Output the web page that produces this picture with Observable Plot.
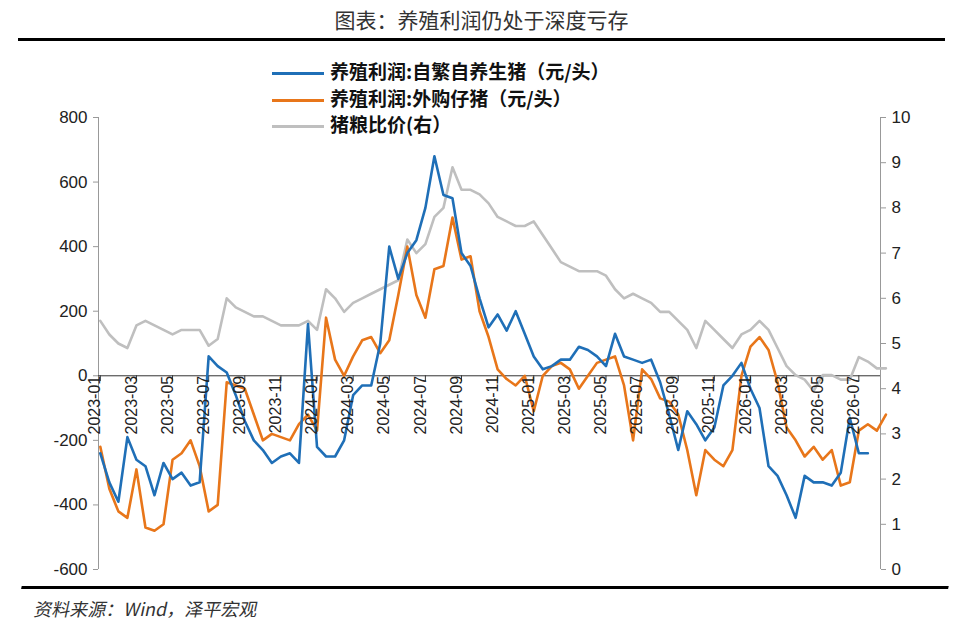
<!DOCTYPE html>
<html><head><meta charset="utf-8">
<script src="https://cdn.jsdelivr.net/npm/d3@7"></script>
<script src="https://cdn.jsdelivr.net/npm/@observablehq/plot@0.6"></script>
<style>
body{margin:0;background:#fff;font-family:"Liberation Sans",sans-serif;}
#wrap{position:relative;width:978px;}
#title{height:38px;line-height:38px;text-align:center;font-family:"Noto Sans CJK SC";font-size:21px;color:#333;margin:0 33px 0 18px;border-bottom:3px solid #000;}
#src{margin:0 33px 0 18px;border-top:3px solid #000;font-family:"Noto Sans CJK SC";font-size:18px;color:#333;padding:6px 0 0 18px;transform:skewX(-12deg);transform-origin:left;}
#legend{position:absolute;left:272px;top:58px;font-family:"Noto Sans CJK SC";font-weight:bold;font-size:19px;line-height:26.5px;color:#111;}
#legend span.l{display:inline-block;width:52px;height:3px;vertical-align:middle;margin-right:6px;}
</style></head><body>
<div id="wrap">
<div id="title">图表：养殖利润仍处于深度亏存</div>
<div id="chart"></div>
<div id="src">资料来源：Wind，泽平宏观</div>
<div id="legend">
<div><span class="l" style="background:#1F6FB7"></span>养殖利润:自繁自养生猪（元/头）</div>
<div><span class="l" style="background:#E8761A"></span>养殖利润:外购仔猪（元/头）</div>
<div><span class="l" style="background:#BFBFBF"></span>猪粮比价(右）</div>
</div>
</div>
<script>
// semi-monthly samples starting 2023-01
const selfBred = [-240,-330,-390,-190,-260,-280,-370,-270,-320,-300,-340,-330,60,30,10,-60,-140,-200,-230,-270,-250,-240,-270,160,-220,-250,-250,-200,-60,-30,-30,100,400,300,380,420,520,680,560,550,380,340,240,150,190,140,200,130,60,20,30,50,50,90,80,60,30,130,60,50,40,50,-20,-120,-230,-110,-150,-200,-160,-30,0,40,-40,-100,-280,-310,-370,-440,-310,-330,-330,-340,-300,-130,-240,-240];
const bought = [-220,-350,-420,-440,-290,-470,-480,-460,-260,-240,-200,-280,-420,-400,-20,-30,-40,-120,-200,-180,-190,-200,-150,-120,-170,180,50,0,60,110,120,70,110,250,400,250,180,330,340,490,360,370,200,120,20,-10,-30,0,-110,0,30,40,20,-40,0,40,50,60,-30,-200,20,-10,-70,-80,-120,-230,-370,-230,-260,-280,-230,0,90,120,80,-20,-160,-200,-250,-220,-260,-230,-340,-330,-170,-150,-170,-120];
const ratio = [5.5,5.2,5.0,4.9,5.4,5.5,5.4,5.3,5.2,5.3,5.3,5.3,4.95,5.1,6.0,5.8,5.7,5.6,5.6,5.5,5.4,5.4,5.4,5.5,5.3,6.2,6.0,5.7,5.9,6.0,6.1,6.2,6.3,6.4,7.3,7.0,7.2,7.8,8.0,8.9,8.4,8.4,8.3,8.1,7.8,7.7,7.6,7.6,7.7,7.4,7.1,6.8,6.7,6.6,6.6,6.6,6.5,6.2,6.0,6.1,6.0,5.9,5.7,5.7,5.5,5.3,4.9,5.5,5.3,5.1,4.9,5.2,5.3,5.5,5.3,4.9,4.5,4.3,4.2,3.95,4.3,4.3,4.2,4.2,4.7,4.6,4.45,4.45];
const tickLabels = ["2023-01","2023-03","2023-05","2023-07","2023-09","2023-11","2024-01","2024-03","2024-05","2024-07","2024-09","2024-11","2025-01","2025-03","2025-05","2025-07","2025-09","2025-11","2026-01","2026-03","2026-05","2026-07"];
const toLeft = r => -600 + r*140;
const mk = arr => arr.map((v,i)=>({x:i*0.5,y:v}));
const ticks = tickLabels.map((t,i)=>({x:i*2,t}));
const chart = Plot.plot({
  width:978,height:545,marginTop:76,marginBottom:17,marginLeft:98,marginRight:98,
  style:{fontFamily:"Liberation Sans",fontSize:"17px",color:"#222"},
  x:{domain:[-0.1,43.2],axis:null},
  y:{domain:[-600,800]},
  marks:[
    Plot.axisY({ticks:d3.range(-600,801,200),tickFormat:d=>String(d),tickSize:5,tickPadding:6,label:null,stroke:"#999",fontSize:17}),
    Plot.axisY({anchor:"right",ticks:d3.range(0,11).map(toLeft),tickFormat:v=>Math.round((v+600)/140),tickSize:5,tickPadding:6,label:null,stroke:"#999",fontSize:17}),
    Plot.ruleX([-0.1,43.2],{stroke:"#999"}),
    Plot.ruleY([0],{stroke:"#333"}),
    Plot.ruleX(ticks,{x:"x",y1:0,y2:-18,stroke:"#333"}),
    Plot.line(mk(ratio),{x:"x",y:d=>toLeft(d.y),stroke:"#BFBFBF",strokeWidth:2.6}),
    Plot.line(mk(bought),{x:"x",y:"y",stroke:"#E8761A",strokeWidth:2.6}),
    Plot.line(mk(selfBred),{x:"x",y:"y",stroke:"#1F6FB7",strokeWidth:2.6}),
    Plot.text(ticks,{x:"x",y:0,text:"t",rotate:-90,textAnchor:"end",dx:-5,dy:0,fontSize:16,fill:"#222"})
  ]
});
document.getElementById("chart").appendChild(chart);
</script></body></html>
